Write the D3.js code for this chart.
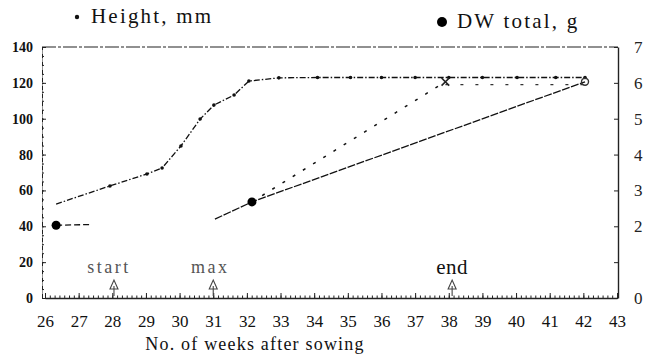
<!DOCTYPE html>
<html>
<head>
<meta charset="utf-8">
<script src="https://cdn.jsdelivr.net/npm/d3@7"></script>
<style>
  body { margin: 0; background: #fff; }
  svg { display: block; }
  svg text { font-family: "Liberation Serif", "Times New Roman", "DejaVu Serif", serif !important; }
  .axis path, .axis line { stroke: #222; }
</style>
</head>
<body>
<svg width="650" height="358"></svg>
<script>
// plant height, mm (small dots)
const heightWeeks = [26.33, 27.93, 29.03, 29.48, 30.04, 30.61, 31.02, 31.62, 32.06, 32.95, 34.1, 35.08, 36.0, 37.0, 38.0, 39.0, 40.03, 41.18, 42.05];
const heightMm = [52.4, 62.5, 69.2, 72.5, 84.8, 99.8, 107.6, 113.2, 121, 122.8, 123, 123, 123, 123, 123, 123, 123, 123, 123];

// DW total, g (big dots + lines)
const dwDotWeeks = [26.33, 32.15];
const dwDots = [2.03, 2.68];
const dwEarlyWeeks = [26.33, 27.4];
const dwEarly = [2.03, 2.05];
const dwTrendWeeks = [31.05, 32.15, 42.05];
const dwTrend = [2.2, 2.68, 6.03];
const dwSteepWeeks = [32.15, 37.9];
const dwSteep = [2.68, 6.03];
const dwFlatWeeks = [37.9, 42.05];
const dwFlat = [5.95, 5.95];

// events along the x axis
const eventNames = ['start', 'max', 'end'];
const eventWeeks = [28.05, 31.0, 38.1];

// tick labels
const xTicks = d3.range(26, 44);
const leftTicks = [0, 20, 40, 60, 80, 100, 120, 140];
const rightTicks = [0, 1, 2, 3, 4, 5, 6, 7];
const rightLabels = ['0', '', '2', '3', '4', '5', '6', '7'];

const svg = d3.select('svg');

const x = d3.scaleLinear().domain([26, 43]).range([45, 617]);
const y = d3.scaleLinear().domain([0, 140]).range([298, 47]);
const yR = d3.scaleLinear().domain([0, 7]).range([298, 47]);

// top frame line
svg.append('line')
  .attr('x1', 42).attr('x2', 618)
  .attr('y1', y(140)).attr('y2', y(140))
  .attr('stroke', '#222')
  .attr('stroke-width', 1.2)
  .attr('stroke-dasharray', '14,2,3,2');

// 左軸
const leftAxis = svg.append('g')
  .attr('class', 'axis')
  .attr('transform', 'translate(42,0)')
  .call(d3.axisLeft(y).tickValues(leftTicks).tickSizeInner(-4).tickSizeOuter(0).tickPadding(9));
leftAxis.selectAll('text').attr('font-size', 14).attr('font-weight', 'bold').attr('fill', '#111');
leftAxis.select('.domain').attr('stroke-dasharray', '5,1,1,1');
// minor ticks left
svg.append('g')
  .attr('class', 'axis')
  .attr('transform', 'translate(42,0)')
  .call(d3.axisLeft(y).tickValues(d3.range(0, 141, 5)).tickSize(-2).tickFormat(''))
  .select('.domain').remove();

// 右軸
const rightAxis = svg.append('g')
  .attr('class', 'axis')
  .attr('transform', 'translate(618,0)')
  .call(d3.axisRight(yR).tickValues(rightTicks).tickSizeInner(-4).tickSizeOuter(0).tickPadding(16)
    .tickFormat((d, i) => rightLabels[i]));
rightAxis.selectAll('text').attr('font-size', 17).attr('fill', '#222');
rightAxis.select('.domain').attr('stroke-width', 1.4);

// x 軸 (weeks + days)
const bottomAxis = svg.append('g')
  .attr('class', 'axis')
  .attr('transform', 'translate(0,298)')
  .call(d3.axisBottom(x).tickValues(xTicks).tickSizeInner(-5).tickSizeOuter(0).tickPadding(17).tickFormat(d3.format('d')));
bottomAxis.selectAll('text').attr('font-size', 17).attr('fill', '#111');
bottomAxis.select('.domain').attr('stroke-width', 1.3);
svg.append('g')
  .attr('class', 'axis')
  .attr('transform', 'translate(0,298)')
  .call(d3.axisBottom(x).tickValues(d3.range(26 * 7, 43 * 7).map((d) => d / 7)).tickSize(-2.5).tickFormat(''))
  .select('.domain').remove();

const line = d3.line().x((d) => x(d[0])).y((d) => d[1]);
const zipH = (ws, vs) => ws.map((w, i) => [w, y(vs[i])]);
const zipR = (ws, vs) => ws.map((w, i) => [w, yR(vs[i])]);

// height line
svg.append('path')
  .attr('d', line(zipH(heightWeeks, heightMm)))
  .attr('fill', 'none')
  .attr('stroke', '#111')
  .attr('stroke-width', 1.3)
  .attr('stroke-dasharray', '6,2,1.5,2');

svg.selectAll('.hdot')
  .data(zipH(heightWeeks, heightMm).slice(1))
  .enter()
  .append('circle')
  .attr('class', 'hdot')
  .attr('cx', (d) => x(d[0]))
  .attr('cy', (d) => d[1])
  .attr('r', 1.8)
  .attr('fill', '#111');

// DW lines
svg.append('path')
  .attr('d', line(zipR(dwEarlyWeeks, dwEarly)))
  .attr('fill', 'none').attr('stroke', '#111').attr('stroke-width', 1.3)
  .attr('stroke-dasharray', '6,3');

svg.append('path')
  .attr('d', line(zipR(dwTrendWeeks, dwTrend)))
  .attr('fill', 'none').attr('stroke', '#111').attr('stroke-width', 1.3)
  .attr('stroke-dasharray', '8,1.5');

svg.append('path')
  .attr('d', line(zipR(dwSteepWeeks, dwSteep)))
  .attr('fill', 'none').attr('stroke', '#111').attr('stroke-width', 1.5)
  .attr('stroke-dasharray', '3,9');

svg.append('path')
  .attr('d', line(zipR(dwFlatWeeks, dwFlat)))
  .attr('fill', 'none').attr('stroke', '#333').attr('stroke-width', 1.2)
  .attr('stroke-dasharray', '3,12');

svg.selectAll('.dwdot')
  .data(zipR(dwDotWeeks, dwDots))
  .enter()
  .append('circle')
  .attr('class', 'dwdot')
  .attr('cx', (d) => x(d[0]))
  .attr('cy', (d) => d[1])
  .attr('r', 4.5)
  .attr('fill', '#000');

// markers at the ends of the flat DW line
svg.append('path')
  .attr('d', d3.symbol(d3.symbolX, 40)())
  .attr('transform', `translate(${x(dwSteepWeeks[1])},${yR(dwSteep[1])})`)
  .attr('stroke', '#222').attr('stroke-width', 1.6).attr('fill', 'none');
svg.append('circle')
  .attr('cx', x(dwTrendWeeks[2])).attr('cy', yR(dwTrend[2]))
  .attr('r', 3.5)
  .attr('fill', 'none').attr('stroke', '#333').attr('stroke-width', 1.4);

// start / max / end
const ev = svg.selectAll('.ev')
  .data(eventNames)
  .enter()
  .append('g')
  .attr('class', 'ev')
  .attr('transform', (d, i) => `translate(${x(eventWeeks[i])},0)`);
ev.append('text')
  .attr('x', (d, i) => (i === 0 ? -5 : i === 1 ? -3 : 0))
  .attr('y', (d, i) => (i === 2 ? 274 : 273))
  .attr('text-anchor', 'middle')
  .attr('font-size', (d, i) => (i === 2 ? 21 : 18))
  .attr('letter-spacing', (d, i) => (i === 2 ? 0.5 : 2.5))
  .attr('fill', (d, i) => (i === 2 ? '#111' : '#555'))
  .text((d) => d);
ev.append('path')
  .attr('d', 'M0,296 L0,286 M-4,289 L0,280 L4,289 Z')
  .attr('fill', 'none')
  .attr('stroke', '#444')
  .attr('stroke-width', 1.1);

// legend
svg.append('circle').attr('cx', 77).attr('cy', 17).attr('r', 2.2).attr('fill', '#111');
svg.append('text')
  .attr('x', 91).attr('y', 23)
  .attr('font-size', 21).attr('letter-spacing', 2.2)
  .attr('fill', '#111')
  .text('Height, mm');
svg.append('circle').attr('cx', 442).attr('cy', 22).attr('r', 5).attr('fill', '#000');
svg.append('text')
  .attr('x', 457).attr('y', 28)
  .attr('font-size', 21).attr('letter-spacing', 2.2)
  .attr('fill', '#111')
  .text('DW  total,  g');

// x 軸標題
svg.append('text')
  .attr('x', 255).attr('y', 350)
  .attr('text-anchor', 'middle')
  .attr('font-size', 18).attr('letter-spacing', 1.2)
  .attr('fill', '#111')
  .text('No. of weeks after sowing');
</script>
</body>
</html>
